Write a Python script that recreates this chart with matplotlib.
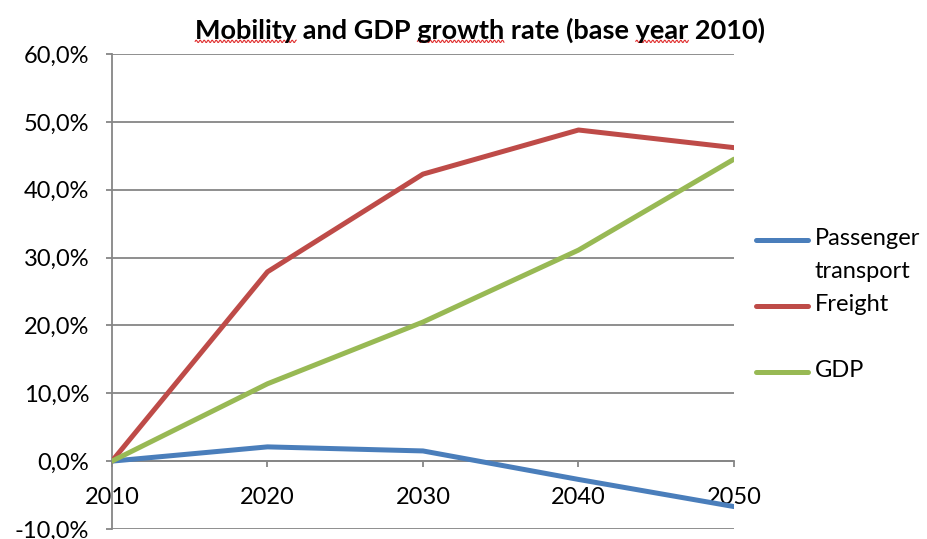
import numpy as np
import matplotlib.pyplot as plt
from matplotlib.lines import Line2D
from matplotlib.ticker import FuncFormatter

plt.rcParams["font.family"] = ["Lato", "DejaVu Sans"]

years = [2010, 2020, 2030, 2040, 2050]
passenger = [0.0, 2.1, 1.5, -2.7, -6.7]
freight = [0.0, 27.9, 42.3, 48.8, 46.2]
gdp = [0.0, 11.4, 20.5, 31.1, 44.5]

series = [
    ("Passenger\ntransport", passenger, "#4A7EBB"),
    ("Freight", freight, "#BE4B48"),
    ("GDP", gdp, "#98B954"),
]

title = "Mobility and GDP growth rate (base year 2010)"
flagged = ["Mobility", "growth", "year"]

grey = "#868686"
fs = 17

fig = plt.figure(figsize=(9.27, 5.39), dpi=100)
ax = fig.add_axes([0.1208, 0.0186, 0.671, 0.8812])

for label, vals, color in series:
    ax.plot(years, vals, color=color, lw=3.6, solid_capstyle="round",
            solid_joinstyle="round", zorder=3)

ax.set_xlim(2010, 2050)
ax.set_ylim(-10, 60)
ax.set_yticks(range(-10, 61, 10))
ax.yaxis.set_major_formatter(FuncFormatter(lambda v, p: f"{v:.1f}%".replace(".", ",")))
ax.set_xticks(years)
ax.grid(axis="y", color=grey, lw=1.3)
ax.set_axisbelow(True)

for s in ["top", "right"]:
    ax.spines[s].set_visible(False)
ax.spines["bottom"].set_position(("data", 0))
for s in ["bottom", "left"]:
    ax.spines[s].set_color(grey)
    ax.spines[s].set_linewidth(1.3)

ax.tick_params(axis="y", length=4.5, width=1.3, color=grey, pad=12, labelsize=fs)
ax.tick_params(axis="x", length=4.5, width=1.3, color=grey, pad=14, labelsize=fs)

ttl = fig.text(0.518, 0.944, title, ha="center", va="center",
               fontsize=19.5, fontweight="bold")

# red squiggles under the spell-checked words of the title
renderer = fig.canvas.get_renderer()
tb = ttl.get_window_extent(renderer)
for word in flagged:
    start = title.index(word)
    probe = fig.text(0, 0, title[:start], fontsize=19.5, fontweight="bold")
    x0 = tb.x0 + probe.get_window_extent(renderer).width if start else tb.x0
    probe.set_text(word)
    w = probe.get_window_extent(renderer).width
    probe.remove()
    xs = np.arange(x0, x0 + w, 0.5)
    ys = tb.y0 + 1.5 + 1.2 * np.sin((xs - x0) * np.pi / 2.0)
    fig.add_artist(Line2D(xs / fig.bbox.width, ys / fig.bbox.height,
                          color="#E03030", lw=0.8, transform=fig.transFigure))

# legend drawn by hand to the right of the plot
legend_y = [0.555, 0.432, 0.31]
for (label, vals, color), y in zip(series, legend_y):
    fig.add_artist(Line2D([0.815, 0.872], [y, y], color=color, lw=3.6,
                          solid_capstyle="round", transform=fig.transFigure))
    lines = label.split("\n")
    for k, line in enumerate(lines):
        fig.text(0.879, y + 0.003 - 0.062 * k, line, ha="left", va="center", fontsize=fs)

fig.savefig("out.png", dpi=100)
